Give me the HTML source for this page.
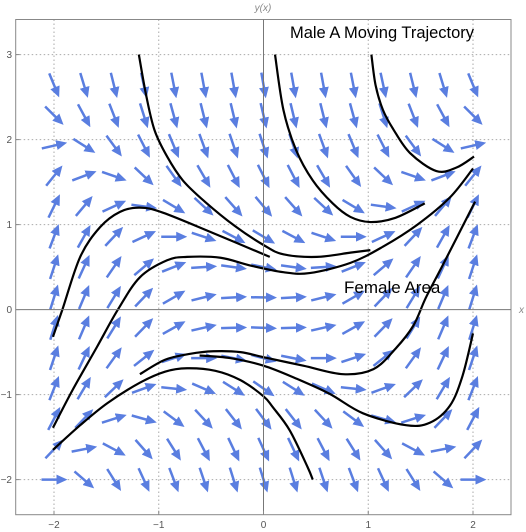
<!DOCTYPE html>
<html><head><meta charset="utf-8"><style>
html,body{margin:0;padding:0;background:#fff;}
svg{display:block;font-family:"Liberation Sans",sans-serif;}
</style></head><body>
<svg id="chart" width="526" height="532" viewBox="0 0 526 532" xmlns="http://www.w3.org/2000/svg">
<defs><marker id="ah" markerWidth="4.4" markerHeight="4" refX="1.2" refY="2" orient="auto" markerUnits="strokeWidth"><path d="M0,0 L4.4,2 L0,4 Z" fill="#5a7ee0"/></marker></defs>
<g id="grid"></g>
<g id="arrows"></g>
<g id="curves"></g>
<g id="axes"></g>
<text x="290" y="38" font-size="16.5" fill="#000" textLength="184">Male A Moving Trajectory</text>
<text x="344" y="293" font-size="17" fill="#000">Female Area</text>
<text x="263" y="11" font-size="10" fill="#888" font-style="italic" text-anchor="middle">y(x)</text>
<text x="519" y="313" font-size="10" fill="#888" font-style="italic">x</text>
</svg>
<script>
const xTicks = [-2, -1, 0, 1, 2];
const yTicks = [-2, -1, 0, 1, 2, 3];
const xGridVals = [-2, -1, 1, 2];
const yGridVals = [-2, -1, 1, 2, 3];
const fieldCols = 15;
const fieldRows = 14;
const fieldStep = [4/14, 5/14];
const curveC1 = [[-1.19,3.0],[-1.12,2.52],[-1.04,2.11],[-0.92,1.80],[-0.77,1.52],[-0.56,1.27],[-0.27,0.98],[0.0,0.76],[0.19,0.65],[0.51,0.62],[0.83,0.67],[1.02,0.70]];
const curveC2 = [[0.11,3.0],[0.19,2.35],[0.31,1.88],[0.47,1.52],[0.66,1.25],[0.83,1.09],[1.02,1.03],[1.26,1.08],[1.54,1.25]];
const curveC3 = [[1.03,3.0],[1.07,2.64],[1.14,2.35],[1.24,2.12],[1.40,1.84],[1.65,1.63],[1.84,1.67],[2.01,1.80]];
const curveC4 = [[-2.01,-0.32],[-1.92,0.0],[-1.75,0.62],[-1.56,0.97],[-1.37,1.15],[-1.18,1.20],[-0.96,1.14],[-0.48,0.90],[0.06,0.62]];
const curveC5 = [[-2.01,-1.39],[-1.82,-0.94],[-1.59,-0.44],[-1.39,0.0],[-1.18,0.38],[-0.92,0.58],[-0.73,0.62],[-0.41,0.61],[-0.13,0.52],[0.19,0.44],[0.44,0.43],[0.83,0.55],[1.14,0.74],[1.47,1.0],[1.78,1.32],[2.0,1.66]];
const curveD = [[-1.18,-0.76],[-0.94,-0.59],[-0.70,-0.52],[-0.48,-0.49],[-0.22,-0.50],[0.0,-0.56],[0.38,-0.66],[0.76,-0.76],[1.05,-0.70],[1.26,-0.46],[1.43,-0.19],[1.55,0.14],[1.71,0.52],[2.02,1.27]];
const curveE = [[-0.61,-0.54],[-0.32,-0.57],[0.0,-0.66],[0.31,-0.81],[0.63,-0.99],[0.95,-1.22],[1.36,-1.36],[1.59,-1.33],[1.78,-1.13],[1.90,-0.78],[2.0,-0.28]];
const curveF = [[-2.01,-1.65],[-1.75,-1.36],[-1.49,-1.10],[-1.18,-0.86],[-0.94,-0.73],[-0.73,-0.69],[-0.46,-0.72],[-0.22,-0.83],[0.0,-1.02],[0.09,-1.15],[0.25,-1.42],[0.42,-1.85],[0.47,-2.0]];
const curves = [curveC1, curveC2, curveC3, curveC4, curveC5, curveD, curveE, curveF];

const NS = "http://www.w3.org/2000/svg";
const X0 = 263.5, XU = 104.75, Y0 = 309.6, YU = 85;
const L = 15.7, R = 511, T = 19.5, B = 514.7;
function sx(x){ return X0 + x*XU; }
function sy(y){ return Y0 - y*YU; }
function mk(tag, attrs, parent){
  const e = document.createElementNS(NS, tag);
  for (const k in attrs) e.setAttribute(k, attrs[k]);
  parent.appendChild(e);
  return e;
}
const grid = document.getElementById('grid');
xGridVals.forEach(v => {
  const l = mk('line', {x1:sx(v), x2:sx(v), y1:T, y2:B, stroke:'#aaa', 'stroke-width':1, 'stroke-dasharray':'1.5,2.5'}, grid);
  
  
});
yGridVals.forEach(v => {
  const l = mk('line', {x1:L, x2:R, y1:sy(v), y2:sy(v), stroke:'#aaa', 'stroke-width':1, 'stroke-dasharray':'1.5,2.5'}, grid);
  
  
});
const arrows = document.getElementById('arrows');
const AL = 18;
for (let i = 0; i < fieldCols; i++) {
  for (let j = 0; j < fieldRows; j++) {
    const x = -2 + i*fieldStep[0], y = -2 + j*fieldStep[1];
    const s = x*x - y*y;
    const dx = 1*XU, dy = s*YU;
    const m = Math.hypot(dx, dy);
    const ux = dx/m, uy = dy/m;
    const cx = sx(x), cy = sy(y);
    const a = mk('line', {x1:cx-ux*AL*0.5-ux*3.5, y1:cy+uy*AL*0.5+uy*3.5, x2:cx+ux*AL*0.5-ux*3.5, y2:cy-uy*AL*0.5+uy*3.5, stroke:'#5a7ee0', 'stroke-width':2.5, 'marker-end':'url(#ah)'}, arrows);
    
    
  }
}
const cg = document.getElementById('curves');
curves.forEach(c => {
  const P = c.map(p => [sx(p[0]), sy(p[1])]);
  let d = 'M' + P[0][0] + ',' + P[0][1];
  for (let k = 0; k < P.length-1; k++) {
    const p0 = P[Math.max(0,k-1)], p1 = P[k], p2 = P[k+1], p3 = P[Math.min(P.length-1,k+2)];
    const c1x = p1[0] + (p2[0]-p0[0])/6, c1y = p1[1] + (p2[1]-p0[1])/6;
    const c2x = p2[0] - (p3[0]-p1[0])/6, c2y = p2[1] - (p3[1]-p1[1])/6;
    d += ' C' + c1x + ',' + c1y + ' ' + c2x + ',' + c2y + ' ' + p2[0] + ',' + p2[1];
  }
  const p = mk('path', {d:d, fill:'none', stroke:'#000', 'stroke-width':2.2, 'stroke-linejoin':'round'}, cg);
  
  
});
const ax = document.getElementById('axes');
const fr = mk('rect', {x:L, y:T, width:R-L, height:B-T, fill:'none', stroke:'#888', 'stroke-width':1}, ax);


const xa = mk('line', {x1:L, x2:R, y1:sy(0), y2:sy(0), stroke:'#777', 'stroke-width':1}, ax);


const ya = mk('line', {x1:sx(0), x2:sx(0), y1:T, y2:B, stroke:'#777', 'stroke-width':1}, ax);


xTicks.forEach(v => {
  mk('line', {x1:sx(v), x2:sx(v), y1:B, y2:B-4, stroke:'#888'}, ax);
  const t = mk('text', {x:sx(v), y:528, 'font-size':10, fill:'#555', 'text-anchor':'middle'}, ax);
  t.textContent = v < 0 ? '\u2212' + Math.abs(v) : String(v);
  
  
});
yTicks.forEach(v => {
  mk('line', {x1:L, x2:L+4, y1:sy(v), y2:sy(v), stroke:'#888'}, ax);
  const t = mk('text', {x:12, y:sy(v)+3.5, 'font-size':10, fill:'#555', 'text-anchor':'end'}, ax);
  t.textContent = v < 0 ? '\u2212' + Math.abs(v) : String(v);
  
  
});
</script>
</body></html>
